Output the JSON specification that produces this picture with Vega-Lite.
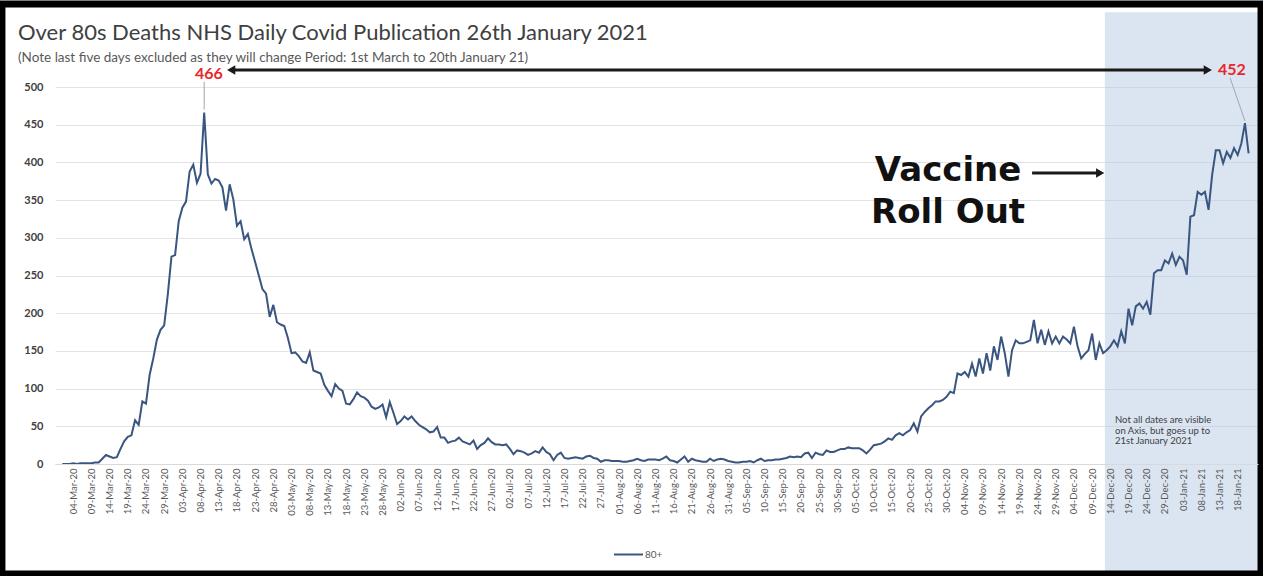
{
"$schema": "https://vega.github.io/schema/vega-lite/v6.json",
"width": 1203,
"height": 377,
"autosize": {"type": "none"},
"padding": {"left": 55, "top": 87, "right": 5, "bottom": 112},
"background": "white",
"config": {
  "font": "Lato",
  "view": {"stroke": null},
  "axisX": {"labelOverlap": false, "zindex": 1}
},
"title": {
  "text": "Over 80s Deaths NHS Daily Covid Publication 26th January 2021",
  "subtitle": "(Note last five days excluded as they will change Period: 1st March to 20th January 21)",
  "anchor": "start", "frame": "group", "dx": -37, "dy": 84, "offset": 19,
  "font": "Lato", "fontSize": 22, "fontWeight": "normal", "color": "#404040",
  "subtitleFont": "Lato", "subtitleFontSize": 13.5, "subtitleColor": "#595959", "subtitlePadding": 6
},
"encoding": {
  "x": {
    "field": "date", "type": "temporal", "title": null,
    "scale": {"type": "utc", "domain": [{"year": 2020, "month": 2, "date": 28, "utc": true}, {"year": 2021, "month": 1, "date": 23, "hours": 14, "utc": true}]},
    "axis": {
      "values": [
        {"year":2020,"month":3,"date":4,"utc":true},{"year":2020,"month":3,"date":9,"utc":true},{"year":2020,"month":3,"date":14,"utc":true},{"year":2020,"month":3,"date":19,"utc":true},{"year":2020,"month":3,"date":24,"utc":true},{"year":2020,"month":3,"date":29,"utc":true},
        {"year":2020,"month":4,"date":3,"utc":true},{"year":2020,"month":4,"date":8,"utc":true},{"year":2020,"month":4,"date":13,"utc":true},{"year":2020,"month":4,"date":18,"utc":true},{"year":2020,"month":4,"date":23,"utc":true},{"year":2020,"month":4,"date":28,"utc":true},
        {"year":2020,"month":5,"date":3,"utc":true},{"year":2020,"month":5,"date":8,"utc":true},{"year":2020,"month":5,"date":13,"utc":true},{"year":2020,"month":5,"date":18,"utc":true},{"year":2020,"month":5,"date":23,"utc":true},{"year":2020,"month":5,"date":28,"utc":true},
        {"year":2020,"month":6,"date":2,"utc":true},{"year":2020,"month":6,"date":7,"utc":true},{"year":2020,"month":6,"date":12,"utc":true},{"year":2020,"month":6,"date":17,"utc":true},{"year":2020,"month":6,"date":22,"utc":true},{"year":2020,"month":6,"date":27,"utc":true},
        {"year":2020,"month":7,"date":2,"utc":true},{"year":2020,"month":7,"date":7,"utc":true},{"year":2020,"month":7,"date":12,"utc":true},{"year":2020,"month":7,"date":17,"utc":true},{"year":2020,"month":7,"date":22,"utc":true},{"year":2020,"month":7,"date":27,"utc":true},
        {"year":2020,"month":8,"date":1,"utc":true},{"year":2020,"month":8,"date":6,"utc":true},{"year":2020,"month":8,"date":11,"utc":true},{"year":2020,"month":8,"date":16,"utc":true},{"year":2020,"month":8,"date":21,"utc":true},{"year":2020,"month":8,"date":26,"utc":true},{"year":2020,"month":8,"date":31,"utc":true},
        {"year":2020,"month":9,"date":5,"utc":true},{"year":2020,"month":9,"date":10,"utc":true},{"year":2020,"month":9,"date":15,"utc":true},{"year":2020,"month":9,"date":20,"utc":true},{"year":2020,"month":9,"date":25,"utc":true},{"year":2020,"month":9,"date":30,"utc":true},
        {"year":2020,"month":10,"date":5,"utc":true},{"year":2020,"month":10,"date":10,"utc":true},{"year":2020,"month":10,"date":15,"utc":true},{"year":2020,"month":10,"date":20,"utc":true},{"year":2020,"month":10,"date":25,"utc":true},{"year":2020,"month":10,"date":30,"utc":true},
        {"year":2020,"month":11,"date":4,"utc":true},{"year":2020,"month":11,"date":9,"utc":true},{"year":2020,"month":11,"date":14,"utc":true},{"year":2020,"month":11,"date":19,"utc":true},{"year":2020,"month":11,"date":24,"utc":true},{"year":2020,"month":11,"date":29,"utc":true},
        {"year":2020,"month":12,"date":4,"utc":true},{"year":2020,"month":12,"date":9,"utc":true},{"year":2020,"month":12,"date":14,"utc":true},{"year":2020,"month":12,"date":19,"utc":true},{"year":2020,"month":12,"date":24,"utc":true},{"year":2020,"month":12,"date":29,"utc":true},
        {"year":2021,"month":1,"date":3,"utc":true},{"year":2021,"month":1,"date":8,"utc":true},{"year":2021,"month":1,"date":13,"utc":true},{"year":2021,"month":1,"date":18,"utc":true}
      ],
      "labelExpr": "utcFormat(datum.value, '%d-%b-%y')",
      "labelOverlap": false, "labelAngle": -90, "labelFontSize": 9.5, "labelColor": "#595959", "labelFont": "Lato",
      "ticks": false, "grid": false, "domainColor": "#D9D9D9", "labelPadding": 4, "labelFlush": false, "labelBound": false, "zindex": 1, "title": null
    }
  },
  "y": {
    "field": "value", "type": "quantitative", "title": null,
    "scale": {"domain": [0, 500], "nice": false},
    "axis": {
      "values": [0, 50, 100, 150, 200, 250, 300, 350, 400, 450, 500],
      "labelFontSize": 11, "labelFontWeight": "bold", "labelColor": "#404040", "labelFont": "Lato",
      "domain": false, "ticks": false, "gridColor": "#E3E3E3", "labelPadding": 12, "title": null
    }
  }
},
"layer": [
{
  "data": {"values": [{"date": "2020-12-12T12:00:00Z", "date2": "2021-01-23T14:00:00Z", "value": 599, "value2": -142}]},
  "mark": {"type": "rect", "fill": "#B8CCE4", "opacity": 0.5},
  "encoding": {
    "x2": {"field": "date2"},
    "y2": {"field": "value2"}
  }
},
{
  "data": {"values": [
{"date":"2020-03-01","value":0},{"date":"2020-03-02","value":0},{"date":"2020-03-03","value":0},{"date":"2020-03-04","value":1},{"date":"2020-03-05","value":0},{"date":"2020-03-06","value":1},{"date":"2020-03-07","value":1},{"date":"2020-03-08","value":1},{"date":"2020-03-09","value":1},{"date":"2020-03-10","value":2},{"date":"2020-03-11","value":2},{"date":"2020-03-12","value":7},{"date":"2020-03-13","value":12},{"date":"2020-03-14","value":10},{"date":"2020-03-15","value":8},{"date":"2020-03-16","value":9},{"date":"2020-03-17","value":20},{"date":"2020-03-18","value":30},{"date":"2020-03-19","value":36},{"date":"2020-03-20","value":38},{"date":"2020-03-21","value":58},{"date":"2020-03-22","value":52},{"date":"2020-03-23","value":83},{"date":"2020-03-24","value":80},{"date":"2020-03-25","value":118},{"date":"2020-03-26","value":140},{"date":"2020-03-27","value":165},{"date":"2020-03-28","value":178},{"date":"2020-03-29","value":184},{"date":"2020-03-30","value":225},{"date":"2020-03-31","value":275},
{"date":"2020-04-01","value":277},{"date":"2020-04-02","value":322},{"date":"2020-04-03","value":340},{"date":"2020-04-04","value":348},{"date":"2020-04-05","value":388},{"date":"2020-04-06","value":397},{"date":"2020-04-07","value":373},{"date":"2020-04-08","value":385},{"date":"2020-04-09","value":466},{"date":"2020-04-10","value":384},{"date":"2020-04-11","value":372},{"date":"2020-04-12","value":378},{"date":"2020-04-13","value":376},{"date":"2020-04-14","value":367},{"date":"2020-04-15","value":336},{"date":"2020-04-16","value":371},{"date":"2020-04-17","value":351},{"date":"2020-04-18","value":316},{"date":"2020-04-19","value":322},{"date":"2020-04-20","value":298},{"date":"2020-04-21","value":305},{"date":"2020-04-22","value":285},{"date":"2020-04-23","value":268},{"date":"2020-04-24","value":250},{"date":"2020-04-25","value":232},{"date":"2020-04-26","value":226},{"date":"2020-04-27","value":195},{"date":"2020-04-28","value":211},{"date":"2020-04-29","value":188},{"date":"2020-04-30","value":185},
{"date":"2020-05-01","value":183},{"date":"2020-05-02","value":167},{"date":"2020-05-03","value":147},{"date":"2020-05-04","value":148},{"date":"2020-05-05","value":143},{"date":"2020-05-06","value":136},{"date":"2020-05-07","value":134},{"date":"2020-05-08","value":148},{"date":"2020-05-09","value":124},{"date":"2020-05-10","value":122},{"date":"2020-05-11","value":120},{"date":"2020-05-12","value":105},{"date":"2020-05-13","value":97},{"date":"2020-05-14","value":90},{"date":"2020-05-15","value":106},{"date":"2020-05-16","value":100},{"date":"2020-05-17","value":97},{"date":"2020-05-18","value":80},{"date":"2020-05-19","value":79},{"date":"2020-05-20","value":86},{"date":"2020-05-21","value":95},{"date":"2020-05-22","value":90},{"date":"2020-05-23","value":88},{"date":"2020-05-24","value":84},{"date":"2020-05-25","value":76},{"date":"2020-05-26","value":73},{"date":"2020-05-27","value":75},{"date":"2020-05-28","value":79},{"date":"2020-05-29","value":62},{"date":"2020-05-30","value":82},{"date":"2020-05-31","value":68},
{"date":"2020-06-01","value":53},{"date":"2020-06-02","value":57},{"date":"2020-06-03","value":63},{"date":"2020-06-04","value":59},{"date":"2020-06-05","value":63},{"date":"2020-06-06","value":57},{"date":"2020-06-07","value":52},{"date":"2020-06-08","value":49},{"date":"2020-06-09","value":46},{"date":"2020-06-10","value":42},{"date":"2020-06-11","value":43},{"date":"2020-06-12","value":49},{"date":"2020-06-13","value":35},{"date":"2020-06-14","value":35},{"date":"2020-06-15","value":28},{"date":"2020-06-16","value":30},{"date":"2020-06-17","value":31},{"date":"2020-06-18","value":35},{"date":"2020-06-19","value":30},{"date":"2020-06-20","value":28},{"date":"2020-06-21","value":26},{"date":"2020-06-22","value":31},{"date":"2020-06-23","value":20},{"date":"2020-06-24","value":25},{"date":"2020-06-25","value":28},{"date":"2020-06-26","value":34},{"date":"2020-06-27","value":29},{"date":"2020-06-28","value":26},{"date":"2020-06-29","value":26},{"date":"2020-06-30","value":25},
{"date":"2020-07-01","value":26},{"date":"2020-07-02","value":20},{"date":"2020-07-03","value":13},{"date":"2020-07-04","value":18},{"date":"2020-07-05","value":17},{"date":"2020-07-06","value":15},{"date":"2020-07-07","value":12},{"date":"2020-07-08","value":14},{"date":"2020-07-09","value":17},{"date":"2020-07-10","value":15},{"date":"2020-07-11","value":22},{"date":"2020-07-12","value":16},{"date":"2020-07-13","value":13},{"date":"2020-07-14","value":5},{"date":"2020-07-15","value":12},{"date":"2020-07-16","value":15},{"date":"2020-07-17","value":8},{"date":"2020-07-18","value":7},{"date":"2020-07-19","value":8},{"date":"2020-07-20","value":9},{"date":"2020-07-21","value":8},{"date":"2020-07-22","value":7},{"date":"2020-07-23","value":10},{"date":"2020-07-24","value":11},{"date":"2020-07-25","value":8},{"date":"2020-07-26","value":7},{"date":"2020-07-27","value":3},{"date":"2020-07-28","value":5},{"date":"2020-07-29","value":5},{"date":"2020-07-30","value":4},{"date":"2020-07-31","value":4},
{"date":"2020-08-01","value":4},{"date":"2020-08-02","value":3},{"date":"2020-08-03","value":3},{"date":"2020-08-04","value":4},{"date":"2020-08-05","value":5},{"date":"2020-08-06","value":7},{"date":"2020-08-07","value":5},{"date":"2020-08-08","value":4},{"date":"2020-08-09","value":6},{"date":"2020-08-10","value":6},{"date":"2020-08-11","value":6},{"date":"2020-08-12","value":5},{"date":"2020-08-13","value":7},{"date":"2020-08-14","value":10},{"date":"2020-08-15","value":5},{"date":"2020-08-16","value":4},{"date":"2020-08-17","value":2},{"date":"2020-08-18","value":6},{"date":"2020-08-19","value":10},{"date":"2020-08-20","value":3},{"date":"2020-08-21","value":7},{"date":"2020-08-22","value":5},{"date":"2020-08-23","value":4},{"date":"2020-08-24","value":3},{"date":"2020-08-25","value":3},{"date":"2020-08-26","value":7},{"date":"2020-08-27","value":4},{"date":"2020-08-28","value":6},{"date":"2020-08-29","value":7},{"date":"2020-08-30","value":6},{"date":"2020-08-31","value":4},
{"date":"2020-09-01","value":3},{"date":"2020-09-02","value":2},{"date":"2020-09-03","value":2},{"date":"2020-09-04","value":3},{"date":"2020-09-05","value":3},{"date":"2020-09-06","value":4},{"date":"2020-09-07","value":2},{"date":"2020-09-08","value":5},{"date":"2020-09-09","value":7},{"date":"2020-09-10","value":4},{"date":"2020-09-11","value":5},{"date":"2020-09-12","value":5},{"date":"2020-09-13","value":6},{"date":"2020-09-14","value":6},{"date":"2020-09-15","value":7},{"date":"2020-09-16","value":8},{"date":"2020-09-17","value":10},{"date":"2020-09-18","value":9},{"date":"2020-09-19","value":10},{"date":"2020-09-20","value":9},{"date":"2020-09-21","value":14},{"date":"2020-09-22","value":15},{"date":"2020-09-23","value":8},{"date":"2020-09-24","value":15},{"date":"2020-09-25","value":13},{"date":"2020-09-26","value":12},{"date":"2020-09-27","value":18},{"date":"2020-09-28","value":16},{"date":"2020-09-29","value":16},{"date":"2020-09-30","value":18},
{"date":"2020-10-01","value":20},{"date":"2020-10-02","value":20},{"date":"2020-10-03","value":22},{"date":"2020-10-04","value":21},{"date":"2020-10-05","value":21},{"date":"2020-10-06","value":21},{"date":"2020-10-07","value":18},{"date":"2020-10-08","value":14},{"date":"2020-10-09","value":19},{"date":"2020-10-10","value":25},{"date":"2020-10-11","value":26},{"date":"2020-10-12","value":27},{"date":"2020-10-13","value":30},{"date":"2020-10-14","value":34},{"date":"2020-10-15","value":32},{"date":"2020-10-16","value":38},{"date":"2020-10-17","value":41},{"date":"2020-10-18","value":38},{"date":"2020-10-19","value":42},{"date":"2020-10-20","value":45},{"date":"2020-10-21","value":54},{"date":"2020-10-22","value":43},{"date":"2020-10-23","value":63},{"date":"2020-10-24","value":69},{"date":"2020-10-25","value":74},{"date":"2020-10-26","value":78},{"date":"2020-10-27","value":83},{"date":"2020-10-28","value":83},{"date":"2020-10-29","value":85},{"date":"2020-10-30","value":89},{"date":"2020-10-31","value":96},
{"date":"2020-11-01","value":94},{"date":"2020-11-02","value":120},{"date":"2020-11-03","value":118},{"date":"2020-11-04","value":122},{"date":"2020-11-05","value":116},{"date":"2020-11-06","value":133},{"date":"2020-11-07","value":116},{"date":"2020-11-08","value":140},{"date":"2020-11-09","value":120},{"date":"2020-11-10","value":147},{"date":"2020-11-11","value":124},{"date":"2020-11-12","value":156},{"date":"2020-11-13","value":138},{"date":"2020-11-14","value":169},{"date":"2020-11-15","value":147},{"date":"2020-11-16","value":116},{"date":"2020-11-17","value":151},{"date":"2020-11-18","value":164},{"date":"2020-11-19","value":160},{"date":"2020-11-20","value":160},{"date":"2020-11-21","value":162},{"date":"2020-11-22","value":164},{"date":"2020-11-23","value":191},{"date":"2020-11-24","value":160},{"date":"2020-11-25","value":178},{"date":"2020-11-26","value":158},{"date":"2020-11-27","value":176},{"date":"2020-11-28","value":160},{"date":"2020-11-29","value":169},{"date":"2020-11-30","value":160},
{"date":"2020-12-01","value":169},{"date":"2020-12-02","value":165},{"date":"2020-12-03","value":160},{"date":"2020-12-04","value":182},{"date":"2020-12-05","value":156},{"date":"2020-12-06","value":140},{"date":"2020-12-07","value":146},{"date":"2020-12-08","value":151},{"date":"2020-12-09","value":173},{"date":"2020-12-10","value":138},{"date":"2020-12-11","value":160},{"date":"2020-12-12","value":147},{"date":"2020-12-13","value":151},{"date":"2020-12-14","value":156},{"date":"2020-12-15","value":164},{"date":"2020-12-16","value":156},{"date":"2020-12-17","value":176},{"date":"2020-12-18","value":160},{"date":"2020-12-19","value":206},{"date":"2020-12-20","value":184},{"date":"2020-12-21","value":209},{"date":"2020-12-22","value":213},{"date":"2020-12-23","value":206},{"date":"2020-12-24","value":215},{"date":"2020-12-25","value":198},{"date":"2020-12-26","value":253},{"date":"2020-12-27","value":257},{"date":"2020-12-28","value":257},{"date":"2020-12-29","value":270},{"date":"2020-12-30","value":266},{"date":"2020-12-31","value":279},
{"date":"2021-01-01","value":264},{"date":"2021-01-02","value":275},{"date":"2021-01-03","value":270},{"date":"2021-01-04","value":251},{"date":"2021-01-05","value":328},{"date":"2021-01-06","value":330},{"date":"2021-01-07","value":361},{"date":"2021-01-08","value":357},{"date":"2021-01-09","value":361},{"date":"2021-01-10","value":337},{"date":"2021-01-11","value":384},{"date":"2021-01-12","value":416},{"date":"2021-01-13","value":416},{"date":"2021-01-14","value":399},{"date":"2021-01-15","value":414},{"date":"2021-01-16","value":406},{"date":"2021-01-17","value":419},{"date":"2021-01-18","value":410},{"date":"2021-01-19","value":425},{"date":"2021-01-20","value":452},{"date":"2021-01-21","value":412}
  ]},
  "mark": {"type": "line", "strokeWidth": 2},
  "encoding": {
    "color": {
      "datum": "80+", "type": "nominal",
      "scale": {"range": ["#3A5680"]},
      "legend": {
        "orient": "none", "legendX": 558, "legendY": 452, "direction": "horizontal",
        "symbolType": "stroke", "symbolSize": 841, "symbolStrokeWidth": 2,
        "labelFontSize": 10, "labelColor": "#595959", "labelFont": "Lato", "title": null, "labelOffset": 1, "padding": 0
      }
    }
  }
},
{
  "data": {"values": [
    {"date": "2020-04-16T10:00:00Z", "date2": "2021-01-09T19:00:00Z", "value": 522.5},
    {"date": "2020-11-22T12:00:00Z", "date2": "2020-12-11T05:00:00Z", "value": 386}
  ]},
  "mark": {"type": "rule", "stroke": "#1A1A1A", "strokeWidth": 3},
  "encoding": {"x2": {"field": "date2"}}
},
{
  "data": {"values": [{"date": "2020-04-16T10:00:00Z", "value": 522.5}]},
  "mark": {"type": "point", "shape": "triangle-left", "filled": true, "color": "#1A1A1A", "opacity": 1, "size": 90},
  "encoding": {}
},
{
  "data": {"values": [
    {"date": "2021-01-09T19:00:00Z", "value": 522.5},
    {"date": "2020-12-11T05:00:00Z", "value": 386}
  ]},
  "mark": {"type": "point", "shape": "triangle-right", "filled": true, "color": "#1A1A1A", "opacity": 1, "size": 90},
  "encoding": {}
},
{
  "data": {"values": [
    {"date": "2020-04-09T00:00:00Z", "date2": "2020-04-09T00:00:00Z", "value": 507, "value2": 470},
    {"date": "2021-01-15T22:00:00Z", "date2": "2021-01-20T00:00:00Z", "value": 512, "value2": 455}
  ]},
  "mark": {"type": "rule", "stroke": "#A6A6A6", "strokeWidth": 1},
  "encoding": {"x2": {"field": "date2"}, "y2": {"field": "value2"}}
},
{
  "data": {"values": [
    {"date": "2020-04-10T07:00:00Z", "value": 517, "label": "466"},
    {"date": "2021-01-16T10:00:00Z", "value": 523, "label": "452"}
  ]},
  "mark": {"type": "text", "font": "Lato", "fontSize": 16, "fontWeight": "bold", "color": "#E8262B", "align": "center", "baseline": "middle"},
  "encoding": {"text": {"field": "label", "type": "nominal"}}
},
{
  "data": {"values": [{"date": "2020-10-30T10:00:00Z", "value": 388.6}]},
  "mark": {"type": "text", "text": ["Vaccine", "Roll Out"], "font": "DejaVu Sans", "fontSize": 34, "fontWeight": "bold", "lineHeight": 42, "color": "#111111", "align": "center", "baseline": "middle"},
  "encoding": {}
},
{
  "data": {"values": [{"date": "2020-12-15T07:00:00Z", "value": 58}]},
  "mark": {"type": "text", "text": ["Not all dates are visible", "on Axis, but goes up to", "21st January 2021"], "font": "Lato", "fontSize": 9.5, "lineHeight": 10.5, "color": "#404040", "align": "left", "baseline": "middle"},
  "encoding": {}
},
{
  "data": {"values": [{"date": "2020-02-13T10:00:00Z", "date2": "2021-01-24T10:00:00Z", "value": 610, "value2": -146}]},
  "mark": {"type": "rect", "fill": "transparent", "stroke": "#000000", "strokeWidth": 7},
  "encoding": {
    "x2": {"field": "date2"},
    "y2": {"field": "value2"}
  }
}
]
}
